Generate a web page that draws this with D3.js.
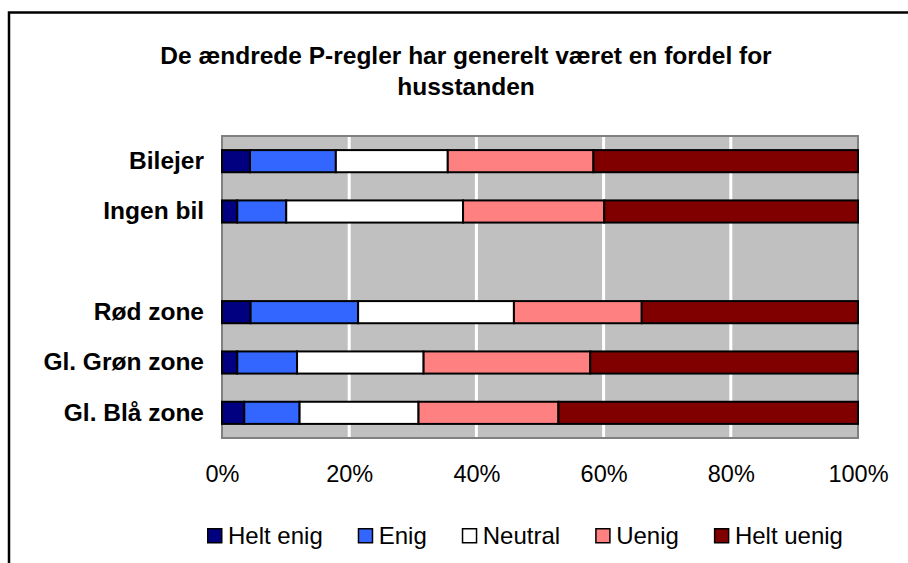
<!DOCTYPE html>
<html>
<head>
<meta charset="utf-8">
<script src="https://cdn.jsdelivr.net/npm/d3@7"></script>
<style>
  body { margin: 0; background: #fff; }
  text { font-family: "Liberation Sans", Arial, sans-serif; }
</style>
</head>
<body>
<svg id="chart" width="908" height="563"></svg>
<script>
// data (percent of answers)
var categories = ["Bilejer", "Ingen bil", "", "Rød zone", "Gl. Grøn zone", "Gl. Blå zone"];
var seriesNames = ["Helt enig", "Enig", "Neutral", "Uenig", "Helt uenig"];
var heltEnig  = [4.4, 2.4, 0, 4.5, 2.4, 3.5];
var enig      = [13.5, 7.7, 0, 16.9, 9.4, 8.7];
var neutral   = [17.6, 27.8, 0, 24.5, 19.9, 18.7];
var uenig     = [22.9, 22.2, 0, 20.1, 26.2, 22.0];
var heltUenig = [41.6, 39.9, 0, 34.0, 42.1, 47.1];
var tickValues = [0, 20, 40, 60, 80, 100];
var colors = ["#000080", "#3366ff", "#ffffff", "#ff8080", "#800000"];

var svg = d3.select("#chart"),
    margin = {top: 136, right: 50, bottom: 125, left: 222},
    width = +svg.attr("width") - margin.left - margin.right,
    height = +svg.attr("height") - margin.top - margin.bottom;

// outer chart frame (only top and left edges are inside the picture)
svg.append("rect")
    .attr("x", 9).attr("y", 12.5)
    .attr("width", 1000).attr("height", 1000)
    .attr("fill", "none").attr("stroke", "#000").attr("stroke-width", 2.5);

svg.append("text")
    .attr("x", 466).attr("text-anchor", "middle")
    .attr("font-weight", "bold").attr("font-size", 24.5)
    .selectAll("tspan")
    .data(["De ændrede P-regler har generelt været en fordel for", "husstanden"])
    .join("tspan")
    .attr("x", 466)
    .attr("y", function(d, i) { return 64 + i * 31; })
    .text(function(d) { return d; });

var rows = categories.map(function(c, i) {
  return {cat: i + ":" + c, label: c, "Helt enig": heltEnig[i], "Enig": enig[i],
          "Neutral": neutral[i], "Uenig": uenig[i], "Helt uenig": heltUenig[i]};
});

var x = d3.scaleLinear().domain([0, 100]).range([0, width]);
var y = d3.scaleBand().domain(rows.map(function(d) { return d.cat; }))
    .range([0, height]).paddingInner(0.56).paddingOuter(0.28);

var g = svg.append("g").attr("transform", "translate(" + margin.left + "," + margin.top + ")");

g.append("rect")
    .attr("width", width).attr("height", height)
    .attr("fill", "#c0c0c0").attr("stroke", "#808080").attr("stroke-width", 2);

g.append("g").selectAll("line")
    .data(tickValues.slice(1, -1))
    .join("line")
    .attr("x1", x).attr("x2", x)
    .attr("y1", 1).attr("y2", height - 1)
    .attr("stroke", "#fff").attr("stroke-width", 3);

var stacked = d3.stack().keys(seriesNames)(rows);

g.append("g").selectAll("g")
    .data(stacked)
    .join("g")
    .attr("fill", function(d, i) { return colors[i]; })
    .selectAll("rect")
    .data(function(d) { return d.filter(function(p) { return p[1] > p[0]; }); })
    .join("rect")
    .attr("x", function(d) { return x(d[0]); })
    .attr("y", function(d) { return y(d.data.cat); })
    .attr("width", function(d) { return x(d[1]) - x(d[0]); })
    .attr("height", y.bandwidth())
    .attr("stroke", "#000").attr("stroke-width", 2);

// category labels
var yAxis = g.append("g").call(d3.axisLeft(y).tickSize(0).tickPadding(18)
    .tickFormat(function(d) { return d.split(":")[1]; }));
yAxis.select(".domain").remove();
yAxis.selectAll("text")
    .attr("font-family", "'Liberation Sans', Arial, sans-serif")
    .attr("font-size", 24.5).attr("font-weight", "bold").attr("fill", "#000");

// percent axis
var xAxis = g.append("g").attr("transform", "translate(0," + height + ")")
    .call(d3.axisBottom(x).tickValues(tickValues).tickSize(0).tickPadding(27)
    .tickFormat(function(d) { return d + "%"; }));
xAxis.select(".domain").remove();
xAxis.selectAll("text")
    .attr("font-family", "'Liberation Sans', Arial, sans-serif")
    .attr("font-size", 23.5).attr("fill", "#000");

// legend
var legend = svg.append("g").attr("transform", "translate(207,528)");
var lx = 0;
seriesNames.forEach(function(name, i) {
  var item = legend.append("g").attr("transform", "translate(" + lx + ",0)");
  item.append("rect")
      .attr("x", 0.75).attr("y", 0.75).attr("width", 14).attr("height", 14)
      .attr("fill", colors[i]).attr("stroke", "#000").attr("stroke-width", 1.5);
  var t = item.append("text")
      .attr("x", 21).attr("y", 16)
      .attr("font-size", 24).attr("fill", "#000")
      .text(name);
  lx += 21 + t.node().getComputedTextLength() + 35;
});
</script>
</body>
</html>
